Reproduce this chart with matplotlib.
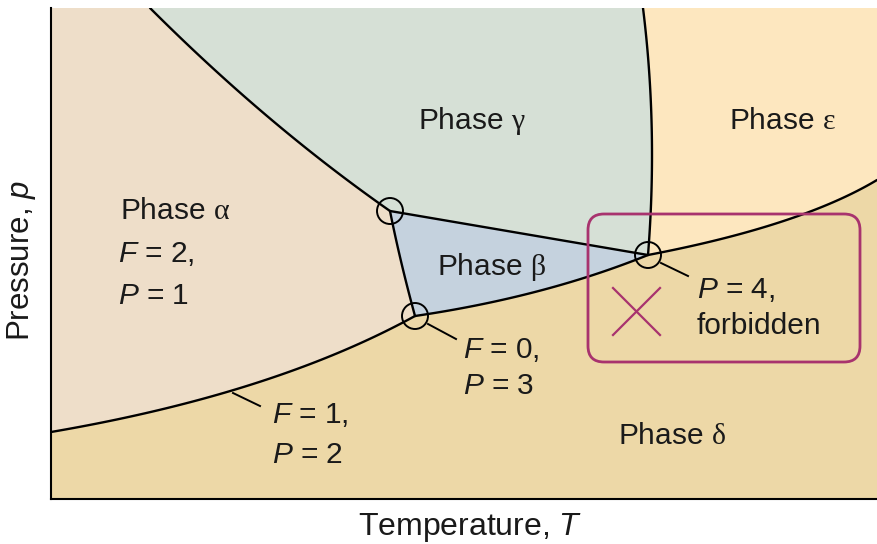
import numpy as np
import matplotlib
matplotlib.use("Agg")
import matplotlib.pyplot as plt
from matplotlib.patches import Polygon, Circle, FancyBboxPatch
from matplotlib.bezier import BezierSegment

plt.rcParams['font.family'] = ['Liberation Sans', 'DejaVu Sans']
plt.rcParams['mathtext.fontset'] = 'custom'
plt.rcParams['mathtext.rm'] = 'Liberation Serif'
plt.rcParams['mathtext.it'] = 'Liberation Sans:italic'

# Axis extent (arbitrary temperature / pressure units)
T_max, p_max = 826, 491

# Phase boundaries, each a quadratic curve: (start, control, end) in (T, p)
ad_ctrl = [(0, 67), (222, 105), (364, 183)]      # alpha / delta
bd_ctrl = [(364, 183), (493, 202), (597, 244)]   # beta / delta
de_ctrl = [(597, 244), (749, 273), (826, 319)]   # delta / epsilon
ab_ctrl = [(339, 288), (349, 238), (364, 183)]   # alpha / beta
bg_ctrl = [(339, 288), (468, 266), (597, 244)]   # beta / gamma
ag_ctrl = [(99, 491), (216, 374), (339, 288)]    # alpha / gamma
ge_ctrl = [(592, 491), (607, 370), (597, 244)]   # gamma / epsilon

# Special points: triple points and the forbidden quadruple point
triple_T = [364, 339]
triple_p = [183, 288]
quad_T, quad_p = 597, 244

phase_colors = {
    "alpha": "#EEDEC9",
    "beta": "#C5D2DE",
    "gamma": "#D6E0D6",
    "delta": "#EDD8A7",
    "epsilon": "#FDE7BF",
}
box_color = "#A8336E"
text_color = "#1a1a1a"


def curve(ctrl, n=60):
    seg = BezierSegment(np.array(ctrl, dtype=float))
    return seg(np.linspace(0, 1, n))


def main():
    fig = plt.figure(figsize=(8.77, 5.44), dpi=100)
    ax = fig.add_axes([51 / 877, 45 / 544, 826 / 877, 491 / 544])
    ax.set_xlim(0, T_max)
    ax.set_ylim(0, p_max)

    ad, bd, de = curve(ad_ctrl), curve(bd_ctrl), curve(de_ctrl)
    ab, bg = curve(ab_ctrl), curve(bg_ctrl)
    ag, ge = curve(ag_ctrl), curve(ge_ctrl)

    top_left = [[0, ad_ctrl[0][1]], [0, p_max]]
    regions = {
        "alpha": np.vstack([top_left, ag, ab, ad[::-1]]),
        "gamma": np.vstack([[[ag_ctrl[0][0], p_max]], ge, bg[::-1], ag[::-1]]),
        "beta": np.vstack([bg, bd[::-1], ab[::-1]]),
        "epsilon": np.vstack([[[ge_ctrl[0][0], p_max], [T_max, p_max]], de[::-1], ge[::-1]]),
        "delta": np.vstack([[[0, 0], [T_max, 0]], de[::-1], bd[::-1], ad[::-1]]),
    }
    for name, poly in regions.items():
        ax.add_patch(Polygon(poly, closed=True, facecolor=phase_colors[name],
                             edgecolor="none", zorder=1))

    for c in (ad, bd, de, ab, bg, ag, ge):
        ax.plot(c[:, 0], c[:, 1], color="black", lw=1.7, zorder=3,
                solid_capstyle="round")

    # circles at the special points
    for T, p in zip(triple_T, triple_p):
        ax.add_patch(Circle((T, p), 13, fill=False, ec="black", lw=1.4, zorder=4))
    ax.add_patch(Circle((quad_T, quad_p), 13, fill=False, ec="black", lw=1.4, zorder=4))

    # leader lines
    ax.plot([377, 405], [175, 160], color="black", lw=1.4, zorder=4)
    ax.plot([610, 637], [236, 223], color="black", lw=1.4, zorder=4)
    ax.plot([182, 209], [106, 93], color="black", lw=1.4, zorder=4)

    # forbidden box with a cross
    box = FancyBboxPatch((551, 151), 244, 120, boxstyle="round,pad=14,rounding_size=16",
                         fill=False, ec=box_color, lw=2, zorder=5)
    ax.add_patch(box)
    ax.plot([562, 609], [211, 164], color=box_color, lw=1.6, zorder=5)
    ax.plot([562, 609], [164, 211], color=box_color, lw=1.6, zorder=5)

    fs = 21.5
    kw = dict(fontsize=fs, color=text_color, zorder=6, va="center")
    ax.text(421, 378, r"Phase $\mathrm{γ}$", ha="center", **kw)
    ax.text(731, 378, r"Phase $\mathrm{ε}$", ha="center", **kw)
    ax.text(124, 288, r"Phase $\mathrm{α}$", ha="center", **kw)
    ax.text(440, 232, r"Phase $\mathrm{β}$", ha="center", **kw)
    ax.text(621, 63, r"Phase $\mathrm{δ}$", ha="center", **kw)

    ax.text(67, 245, r"$F$ = 2,", ha="left", **kw)
    ax.text(67, 203, r"$P$ = 1", ha="left", **kw)
    ax.text(412, 149, r"$F$ = 0,", ha="left", **kw)
    ax.text(412, 113, r"$P$ = 3", ha="left", **kw)
    ax.text(221, 84, r"$F$ = 1,", ha="left", **kw)
    ax.text(221, 44, r"$P$ = 2", ha="left", **kw)
    ax.text(646, 209, r"$P$ = 4,", ha="left", **kw)
    ax.text(646, 173, "forbidden", ha="left", **kw)

    ax.set_xticks([])
    ax.set_yticks([])
    for s in ("top", "right"):
        ax.spines[s].set_visible(False)
    for s in ("left", "bottom"):
        ax.spines[s].set_linewidth(1.5)
        ax.spines[s].set_zorder(7)

    fig.text(470 / 877, 1 - 528 / 544, r"Temperature, $T$", ha="center", va="center",
             fontsize=23, color=text_color)
    fig.text(22 / 877, 1 - 261 / 544, r"Pressure, $p$", ha="center", va="center",
             rotation=90, fontsize=22.5, color=text_color)

    fig.savefig("out.png", dpi=100)


if __name__ == "__main__":
    main()
